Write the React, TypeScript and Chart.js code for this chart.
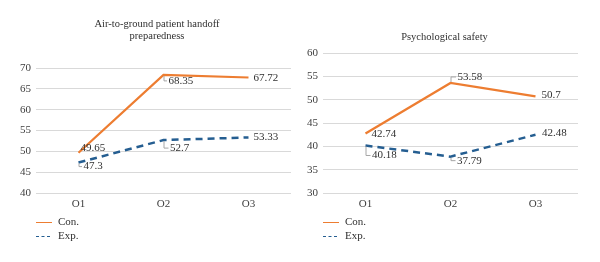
import React, { useEffect, useRef } from "react";
import { Chart, registerables } from "chart.js";

Chart.register(...registerables);

// Measurement occasions and group means
const categories = ["O1", "O2", "O3"];
const handoffCon = [49.65, 68.35, 67.72];
const handoffExp = [47.3, 52.7, 53.33];
const safetyCon = [42.74, 53.58, 50.7];
const safetyExp = [40.18, 37.79, 42.48];
const handoffRange = [40, 70, 5];
const safetyRange = [30, 60, 5];
const seriesNames = ["Con.", "Exp."];

const ORANGE = "#ED7D31";
const BLUE = "#255E91";
const TEXT = "#303030";
const TICK = "#404040";
const FONT = "'Liberation Serif', 'Times New Roman', serif";

type LabelPos = { dx: number; dy: number; leader?: boolean };

type PanelStyle = {
  title: string[];
  titleX: number;
  titleY: number[];
  pad: { top: number; right: number; bottom: number };
  yWidth: number;
  legendX: number;
  labels: LabelPos[][];
};

const panelPlugin = {
  id: "panelDecor",
  afterDatasetsDraw(chart: any, _args: any, opts: PanelStyle) {
    const ctx = chart.ctx;
    ctx.save();
    ctx.font = `11px ${FONT}`;
    ctx.textBaseline = "middle";
    // value labels with short leader lines
    chart.data.datasets.forEach((ds: any, di: number) => {
      const meta = chart.getDatasetMeta(di);
      meta.data.forEach((pt: any, i: number) => {
        const pos = opts.labels[di][i];
        const x = pt.x;
        const y = pt.y;
        if (pos.leader) {
          ctx.strokeStyle = "#A6A6A6";
          ctx.lineWidth = 1;
          ctx.beginPath();
          ctx.moveTo(x + 0.5, y + (pos.dy > 0 ? 1 : -1));
          ctx.lineTo(x + 0.5, y + pos.dy);
          ctx.lineTo(x + pos.dx - 1.5, y + pos.dy);
          ctx.stroke();
        }
        ctx.fillStyle = TEXT;
        ctx.textAlign = "left";
        ctx.fillText(String(ds.data[i]), x + pos.dx, y + pos.dy);
      });
    });
    ctx.restore();
  },
  afterDraw(chart: any, _args: any, opts: PanelStyle) {
    const ctx = chart.ctx;
    ctx.save();
    ctx.fillStyle = TEXT;
    ctx.textBaseline = "middle";
    ctx.textAlign = "center";
    ctx.font = `10.5px ${FONT}`;
    opts.title.forEach((line, i) => ctx.fillText(line, opts.titleX, opts.titleY[i]));
    // vertical legend under the plot
    ctx.font = `11px ${FONT}`;
    ctx.textAlign = "left";
    chart.data.datasets.forEach((ds: any, di: number) => {
      const y = 222 + di * 14;
      ctx.strokeStyle = ds.borderColor;
      ctx.lineWidth = 1;
      ctx.setLineDash(ds.borderDash && ds.borderDash.length ? [3, 2.5] : []);
      ctx.beginPath();
      ctx.moveTo(opts.legendX, y + 0.5);
      ctx.lineTo(opts.legendX + 16, y + 0.5);
      ctx.stroke();
      ctx.setLineDash([]);
      ctx.fillText(ds.label, opts.legendX + 22, y);
    });
    ctx.restore();
  },
};

function Panel(props: {
  con: number[];
  exp: number[];
  range: number[];
  style: PanelStyle;
  left: number;
}) {
  const ref = useRef<HTMLCanvasElement>(null);
  useEffect(() => {
    const { con, exp, range, style } = props;
    const chart = new Chart(ref.current as HTMLCanvasElement, {
      type: "line",
      data: {
        labels: categories,
        datasets: [
          {
            label: seriesNames[0],
            data: con,
            borderColor: ORANGE,
            backgroundColor: ORANGE,
            borderWidth: 2.25,
            pointRadius: 0,
            tension: 0,
          },
          {
            label: seriesNames[1],
            data: exp,
            borderColor: BLUE,
            backgroundColor: BLUE,
            borderWidth: 2.5,
            borderDash: [7, 5],
            pointRadius: 0,
            tension: 0,
          },
        ],
      },
      options: {
        responsive: false,
        animation: false,
        devicePixelRatio: 1,
        layout: { padding: { left: 0, ...style.pad } },
        plugins: {
          legend: { display: false },
          title: { display: false },
          tooltip: { enabled: false },
          panelDecor: style,
        } as any,
        scales: {
          x: {
            offset: true,
            grid: { display: false, drawTicks: false },
            border: { display: false },
            ticks: { color: TICK, font: { family: FONT, size: 11 }, padding: 5 },
            afterFit(scale: any) {
              scale.height = 20;
            },
          },
          y: {
            min: range[0],
            max: range[1],
            grid: { color: "#D9D9D9", lineWidth: 1, drawTicks: false },
            border: { display: false },
            ticks: {
              stepSize: range[2],
              color: TICK,
              font: { family: FONT, size: 11 },
              padding: 5,
            },
            afterFit(scale: any) {
              scale.width = style.yWidth;
            },
          },
        },
      },
      plugins: [panelPlugin],
    });
    return () => chart.destroy();
  }, []);
  return (
    <canvas
      ref={ref}
      width={300}
      height={262}
      style={{ position: "absolute", left: props.left, top: 0, width: 300, height: 262 }}
    />
  );
}

const handoffStyle: PanelStyle = {
  title: ["Air-to-ground patient handoff", "preparedness"],
  titleX: 157,
  titleY: [24, 36],
  pad: { top: 68, right: 9, bottom: 49 },
  yWidth: 36,
  legendX: 36,
  labels: [
    [
      { dx: 2, dy: -5 },
      { dx: 5, dy: 6, leader: true },
      { dx: 5, dy: 1 },
    ],
    [
      { dx: 5, dy: 4, leader: true },
      { dx: 6.5, dy: 8, leader: true },
      { dx: 5, dy: 0 },
    ],
  ],
};

const safetyStyle: PanelStyle = {
  title: ["Psychological safety"],
  titleX: 144.5,
  titleY: [37],
  pad: { top: 53, right: 22, bottom: 49 },
  yWidth: 23,
  legendX: 23,
  labels: [
    [
      { dx: 6, dy: 0.5 },
      { dx: 7, dy: -6, leader: true },
      { dx: 6, dy: -1 },
    ],
    [
      { dx: 6.5, dy: 10, leader: true },
      { dx: 6.5, dy: 4, leader: true },
      { dx: 6.5, dy: -1.5 },
    ],
  ],
};

export default function App() {
  return (
    <div style={{ position: "absolute", left: 0, top: 0, width: 600, height: 262, background: "#fff" }}>
      <Panel con={handoffCon} exp={handoffExp} range={handoffRange} style={handoffStyle} left={0} />
      <Panel con={safetyCon} exp={safetyExp} range={safetyRange} style={safetyStyle} left={300} />
    </div>
  );
}
